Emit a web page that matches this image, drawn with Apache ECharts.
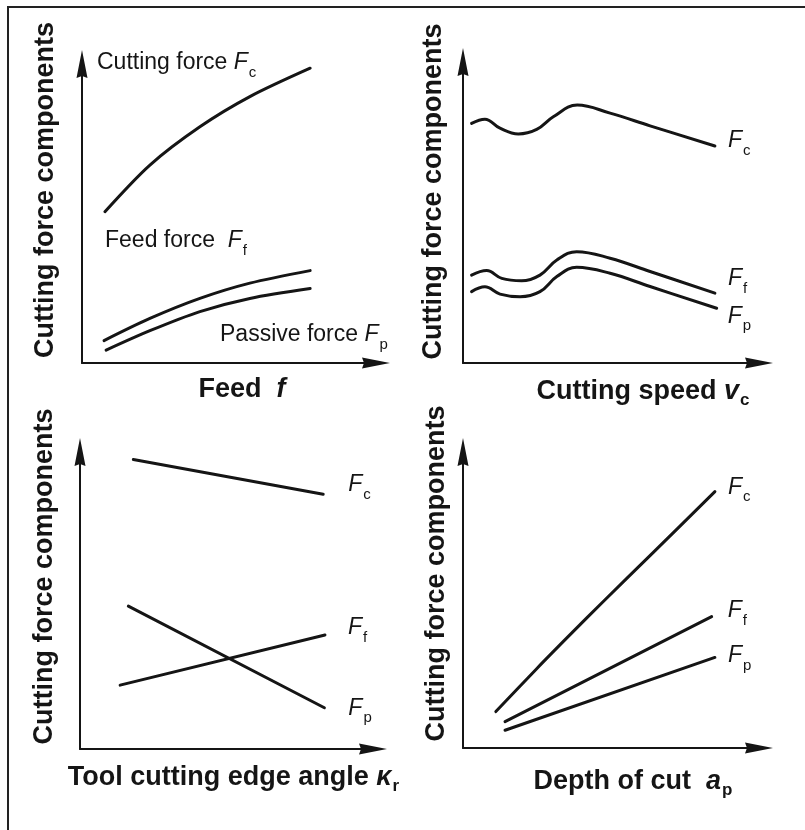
<!DOCTYPE html>
<html>
<head>
<meta charset="utf-8">
<script src="https://cdn.jsdelivr.net/npm/echarts@6/dist/echarts.min.js"></script>
<style>html,body{margin:0;padding:0;background:#fff}#c{width:805px;height:830px}</style>
</head>
<body>
<div id="c"></div>
<script>
// ---------------- DATA (arbitrary units, read from the schematic) ----------------
// Panel 1: Feed f
const feedFcX = [0.78, 2.31, 4.01, 5.71, 7.76];
const feedFc  = [5.06, 6.62, 7.90, 8.91, 9.86];
const feedFfX = [0.75, 2.31, 4.01, 5.71, 7.76];
const feedFf  = [0.75, 1.49, 2.16, 2.67, 3.09];
const feedFpX = [0.82, 2.31, 4.01, 5.71, 7.76];
const feedFp  = [0.43, 1.08, 1.72, 2.16, 2.49];

// Panel 2: Cutting speed vc
const speedFcX = [0.29, 0.74, 1.25, 1.87, 2.49, 3.05, 3.86, 4.97, 6.32, 8.51];
const speedFc  = [7.96, 8.10, 7.80, 7.61, 7.76, 8.18, 8.57, 8.30, 7.88, 7.21];
const speedFfX = [0.29, 0.80, 1.31, 1.98, 2.60, 3.17, 3.84, 4.97, 6.32, 8.51];
const speedFf  = [2.92, 3.07, 2.81, 2.73, 2.92, 3.42, 3.70, 3.48, 3.04, 2.32];
const speedFpX = [0.29, 0.74, 1.25, 1.93, 2.60, 3.17, 3.84, 4.97, 6.32, 8.57];
const speedFp  = [2.37, 2.53, 2.29, 2.20, 2.37, 2.87, 3.18, 2.98, 2.54, 1.82];

// Panel 3: Tool cutting edge angle kr
const angleFcX = [1.82, 8.30];
const angleFc  = [9.75, 8.58];
const angleFfX = [1.37, 8.36];
const angleFf  = [2.15, 3.84];
const angleFpX = [1.65, 8.34];
const angleFp  = [4.81, 1.39];

// Panel 4: Depth of cut ap
const depthFcX = [1.11, 2.49, 3.61, 4.74, 6.43, 8.51];
const depthFc  = [1.23, 2.68, 3.82, 4.95, 6.61, 8.66];
const depthFfX = [1.42, 8.40];
const depthFf  = [0.89, 4.44];
const depthFpX = [1.42, 8.51];
const depthFp  = [0.60, 3.06];

const yAxisTitle = 'Cutting force components';
const xAxisTitles = [
  '{b|Feed  }{bi|f}',
  '{b|Cutting speed }{bi|v}{sub|c}',
  '{b|Tool cutting edge angle }{bi|κ}{sub|r}',
  '{b|Depth of cut  }{bi|a}{sub|p}'
];

// ---------------- STYLE / LAYOUT ----------------
const FONT = "'Liberation Sans', Arial, Helvetica, sans-serif";
const INK = '#151515';
const ARROW = 'path://M5.5 0 L11 28 L5.5 26 L0 28 Z';

const layout = [
  {grid:{left:82,  top:64,  width:294, height:299}, xGap:13, xPad:26, yGap:23, yPad:47},
  {grid:{left:463, top:62,  width:296, height:301}, xGap:15, xPad:64, yGap:16, yPad:42},
  {grid:{left:80,  top:452, width:293, height:297}, xGap:15, xPad:14, yGap:22, yPad:48},
  {grid:{left:463, top:452, width:296, height:296}, xGap:20, xPad:44, yGap:13, yPad:53}
];

const boldRich = {
  b:   {fontFamily:FONT, fontWeight:'bold', fontSize:27, lineHeight:27, verticalAlign:'top', color:INK},
  bi:  {fontFamily:FONT, fontWeight:'bold', fontStyle:'italic', fontSize:27, lineHeight:27, verticalAlign:'top', color:INK},
  sub: {fontFamily:FONT, fontWeight:'bold', fontSize:17, lineHeight:17, verticalAlign:'top', color:INK, padding:[14,0,0,1]}
};
const labelRich = {
  n: {fontFamily:FONT, fontSize:23, lineHeight:23, verticalAlign:'top', fill:INK, color:INK},
  i: {fontFamily:FONT, fontStyle:'italic', fontSize:23, lineHeight:23, verticalAlign:'top', fill:INK, color:INK},
  s: {fontFamily:FONT, fontSize:15, lineHeight:15, verticalAlign:'top', fill:INK, color:INK, padding:[14,0,0,1]}
};

function axisLine() {
  return {show:true, onZero:false, symbol:['none', ARROW], symbolSize:[11, 28],
          lineStyle:{color:INK, width:2}};
}

const grids = layout.map(l => Object.assign({containLabel:false, outerBoundsMode:'none'}, l.grid));
const xAxes = layout.map((l, i) => ({
  gridIndex:i, type:'value', min:0, max:10,
  axisLine:axisLine(), axisTick:{show:false}, axisLabel:{show:false}, splitLine:{show:false},
  name:xAxisTitles[i], nameLocation:'middle', nameGap:l.xGap,
  nameTextStyle:{fontFamily:FONT, fontWeight:'bold', fontSize:27, color:INK, padding:[0,0,0,l.xPad], rich:boldRich}
}));
const yAxes = layout.map((l, i) => ({
  gridIndex:i, type:'value', min:0, max:10,
  axisLine:axisLine(), axisTick:{show:false}, axisLabel:{show:false}, splitLine:{show:false},
  name:yAxisTitle, nameLocation:'middle', nameRotate:90, nameGap:l.yGap,
  nameTextStyle:{fontFamily:FONT, fontWeight:'bold', fontSize:27, color:INK, padding:[0,0,0,l.yPad]}
}));

// curves: panel, x, y, smoothness, end label, label offset from last point
const curves = [
  {p:0, x:feedFcX,  y:feedFc,  smooth:0.3},
  {p:0, x:feedFfX,  y:feedFf,  smooth:0.3},
  {p:0, x:feedFpX,  y:feedFp,  smooth:0.3},
  {p:1, x:speedFcX, y:speedFc, smooth:0.4, label:'{i|F}{s|c}', off:[13, -16.5]},
  {p:1, x:speedFfX, y:speedFf, smooth:0.4, label:'{i|F}{s|f}', off:[13, -26]},
  {p:1, x:speedFpX, y:speedFp, smooth:0.4, label:'{i|F}{s|p}', off:[11, -3.5]},
  {p:2, x:angleFcX, y:angleFc, smooth:0, label:'{i|F}{s|c}', off:[25, -21]},
  {p:2, x:angleFfX, y:angleFf, smooth:0, label:'{i|F}{s|f}', off:[23, -18.5]},
  {p:2, x:angleFpX, y:angleFp, smooth:0, label:'{i|F}{s|p}', off:[24, -11]},
  {p:3, x:depthFcX, y:depthFc, smooth:0.3, label:'{i|F}{s|c}', off:[13, -16]},
  {p:3, x:depthFfX, y:depthFf, smooth:0, label:'{i|F}{s|f}', off:[16, -17]},
  {p:3, x:depthFpX, y:depthFp, smooth:0, label:'{i|F}{s|p}', off:[13, -13]}
];

// free annotations in panel 1 (pixel placement of the text boxes)
const feedNotes = [
  {text:'{n|Cutting force }{i|F}{s|c}', x:97,  y:51.5},
  {text:'{n|Feed force  }{i|F}{s|f}',   x:105, y:229.5},
  {text:'{n|Passive force }{i|F}{s|p}', x:220, y:323.5}
];

const series = curves.map(c => ({
  type:'line', xAxisIndex:c.p, yAxisIndex:c.p, silent:true,
  data:c.x.map((v, k) => [v, c.y[k]]),
  showSymbol:false, symbol:'none', smooth:c.smooth,
  lineStyle:{color:INK, width:3, cap:'round', join:'round'}
}));

const chart = echarts.init(document.getElementById('c'), null, {renderer:'canvas'});
chart.setOption({
  animation:false,
  backgroundColor:'#fff',
  grid:grids, xAxis:xAxes, yAxis:yAxes, series:series
});

const graphics = [{
  type:'polyline', silent:true,
  shape:{points:[[8, 830], [8, 7], [805, 7]]},
  style:{stroke:'#222', lineWidth:2, fill:null}
}];
feedNotes.forEach(n => graphics.push({
  type:'text', x:n.x, y:n.y, silent:true,
  style:{text:n.text, rich:labelRich, fontFamily:FONT, fontSize:23, fill:INK, align:'left', verticalAlign:'top'}
}));
curves.forEach(c => {
  if (!c.label) return;
  const last = c.x.length - 1;
  const pt = chart.convertToPixel({gridIndex:c.p}, [c.x[last], c.y[last]]);
  graphics.push({
    type:'text', x:pt[0] + c.off[0], y:pt[1] + c.off[1], silent:true,
    style:{text:c.label, rich:labelRich, fontFamily:FONT, fontSize:23, fill:INK, align:'left', verticalAlign:'top'}
  });
});
chart.setOption({graphic:graphics});
</script>
</body>
</html>
